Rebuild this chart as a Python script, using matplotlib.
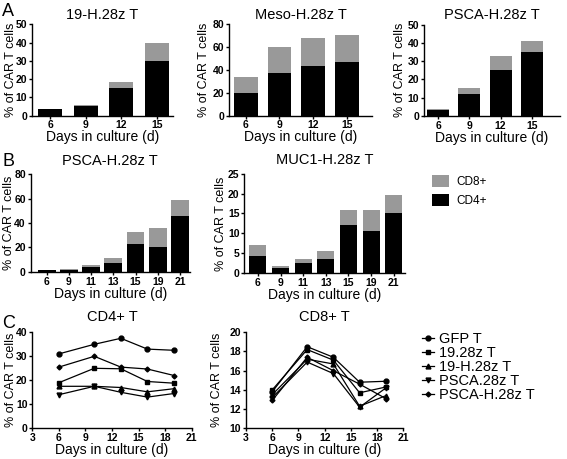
import numpy as np
import matplotlib
matplotlib.use("Agg")
import matplotlib.pyplot as plt

plt.rcParams['font.family'] = ['Liberation Sans', 'DejaVu Sans']

# panel A: CD4+ (black) and total (CD4+ + CD8+) percentages
a_days = ["6", "9", "12", "15"]
a1_cd4 = [3.5, 5.0, 15.0, 30.0]
a1_tot = [3.8, 6.0, 18.5, 40.0]
a2_cd4 = [20.0, 37.5, 43.5, 47.0]
a2_tot = [34.0, 60.5, 68.0, 70.5]
a3_cd4 = [3.5, 12.0, 25.0, 35.0]
a3_tot = [4.0, 15.5, 33.0, 41.0]

# panel B
b_days = ["6", "9", "11", "13", "15", "19", "21"]
b1_cd4 = [1.0, 1.5, 4.0, 7.0, 22.5, 20.5, 46.0]
b1_tot = [1.5, 2.5, 5.5, 11.0, 32.5, 35.5, 59.0]
b2_cd4 = [4.2, 1.1, 2.4, 3.4, 12.0, 10.6, 15.0]
b2_tot = [7.0, 1.7, 3.4, 5.4, 15.8, 16.0, 19.6]

# panel C
c_days = [6, 10, 13, 16, 19]
c_names = ["GFP T", "19.28z T", "19-H.28z T", "PSCA.28z T", "PSCA-H.28z T"]
c_markers = ["o", "s", "^", "v", "D"]
cd4 = {
    "GFP T": [31.0, 35.0, 37.5, 33.0, 32.5],
    "19.28z T": [19.0, 25.0, 24.8, 19.5, 18.8],
    "19-H.28z T": [17.5, 17.5, 17.0, 15.2, 16.5],
    "PSCA.28z T": [14.0, 17.5, 15.0, 13.0, 14.5],
    "PSCA-H.28z T": [25.5, 30.0, 25.5, 24.7, 22.0],
}
cd8 = {
    "GFP T": [13.8, 18.5, 17.4, 14.8, 14.9],
    "19.28z T": [14.0, 18.2, 17.1, 13.7, 14.3],
    "19-H.28z T": [13.5, 17.2, 16.7, 12.3, 13.4],
    "PSCA.28z T": [13.2, 16.9, 15.7, 12.2, 14.2],
    "PSCA-H.28z T": [12.9, 17.4, 16.0, 14.6, 13.1],
}

W, H = 567, 459
fig = plt.figure(figsize=(W / 100, H / 100), dpi=100)


def add_ax(l, t, r, b):
    return fig.add_axes([l / W, 1 - b / H, (r - l) / W, (b - t) / H])


def style(ax, ylab_x, title, tpad):
    for s in ["top", "right"]:
        ax.spines[s].set_visible(False)
    for s in ["left", "bottom"]:
        ax.spines[s].set_linewidth(1.0)
    ax.tick_params(direction="out", length=2.5, width=1, pad=1, labelsize=7.5)
    for lab in ax.get_xticklabels() + ax.get_yticklabels():
        lab.set_fontweight("bold")
    ax.set_xlabel("Days in culture (d)", fontsize=10, labelpad=0)
    ax.set_ylabel("% of CAR T cells", fontsize=9)
    # ylab_x is the right edge of the rotated label, in pixels
    pos = ax.get_position()
    ax.yaxis.set_label_coords((ylab_x / W - pos.x0) / pos.width, 0.5)
    ax.set_title(title, fontsize=10.5, pad=tpad)


def bars(ax, days, cd4v, tot, width, xlim, ylim, yticks, title, ylab_x, tpad):
    x = np.arange(len(days))
    top = np.array(tot) - np.array(cd4v)
    ax.bar(x, cd4v, width, color="black", label="CD4+")
    ax.bar(x, top, width, bottom=cd4v, color="#999999", label="CD8+")
    ax.set_xticks(x)
    ax.set_xticklabels(days)
    ax.set_xlim(*xlim)
    ax.set_ylim(*ylim)
    ax.set_yticks(yticks)
    style(ax, ylab_x, title, tpad)


ax = add_ax(32, 24.3, 173, 115.5)
bars(ax, a_days, a1_cd4, a1_tot, 0.68, (-0.52, 3.46), (0, 50), range(0, 51, 10),
     "19-H.28z T", 17, 4)
ax = add_ax(229, 24.3, 372, 115.5)
bars(ax, a_days, a2_cd4, a2_tot, 0.7, (-0.5, 3.75), (0, 80), range(0, 81, 20),
     "Meso-H.28z T", 210, 4)
ax = add_ax(424, 24.5, 560, 116)
bars(ax, a_days, a3_cd4, a3_tot, 0.7, (-0.45, 3.9), (0, 50), range(0, 51, 10),
     "PSCA-H.28z T", 406, 4)

ax = add_ax(30.7, 174.3, 190, 271.7)
bars(ax, b_days, b1_cd4, b1_tot, 0.8, (-0.72, 6.45), (0, 80), range(0, 81, 20),
     "PSCA-H.28z T", 15, 7)
ax = add_ax(244.3, 174, 405, 272.7)
bars(ax, b_days, b2_cd4, b2_tot, 0.75, (-0.6, 6.5), (0, 25), range(0, 26, 5),
     "MUC1-H.28z T", 227, 7)
h, l = ax.get_legend_handles_labels()
fig.legend(h[::-1], l[::-1], loc="upper left", bbox_to_anchor=(427 / W, 1 - 170 / H),
           frameon=False, fontsize=8.5, handlelength=1.5, handleheight=1.2,
           labelspacing=0.55, handletextpad=0.6, borderaxespad=0)


def lines(ax, data, ylim, yticks, title, ylab_x):
    for name, m in zip(c_names, c_markers):
        ax.plot(c_days, data[name], color="black", lw=0.9, marker=m,
                ms=3.5 if m != "D" else 2.5, label=name)
    ax.set_xlim(3, 21)
    ax.set_xticks(range(3, 22, 3))
    ax.set_ylim(*ylim)
    ax.set_yticks(yticks)
    style(ax, ylab_x, title, 8)


ax = add_ax(32.3, 332.3, 191.7, 428.3)
lines(ax, cd4, (0, 40), range(0, 41, 10), "CD4+ T", 17)
ax = add_ax(246, 332.3, 403.3, 428.3)
lines(ax, cd8, (10, 20), range(10, 21, 2), "CD8+ T", 223)
h, l = ax.get_legend_handles_labels()
fig.legend(h, l, loc="upper left", bbox_to_anchor=(416 / W, 1 - 326 / H),
           frameon=False, fontsize=10.5, handlelength=0.8, labelspacing=0.0,
           handletextpad=0.4, borderaxespad=0)

for letter, y in [("A", 12), ("B", 161), ("C", 324)]:
    fig.text(2 / W, 1 - y / H, letter, fontsize=13, va="center", ha="left")

fig.savefig("out.png", dpi=100)
